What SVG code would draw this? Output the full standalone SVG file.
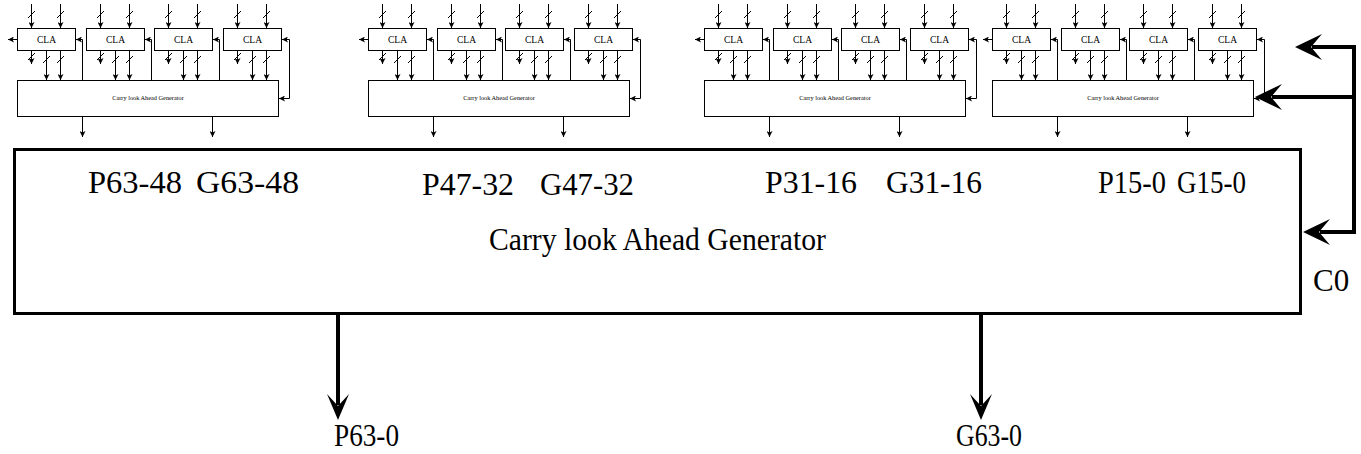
<svg xmlns="http://www.w3.org/2000/svg" xmlns:xlink="http://www.w3.org/1999/xlink" width="1361" height="454" viewBox="0 0 1361 454">
<style>
.ln{stroke:#000;stroke-width:1;fill:none}
.ar{stroke:#000;stroke-width:1;fill:none;marker-end:url(#a)}
.box{fill:#fff;stroke:#000;stroke-width:1}
.cla{font-size:9.5px;text-anchor:middle;fill:#000}
.gen{font-size:6.3px;text-anchor:middle;fill:#000}
.big{font-size:31px;fill:#000}
.thick{stroke:#000;stroke-width:4;fill:none}
.head{fill:#000}
</style>
<defs>
<marker id="a" viewBox="0 0 6 6" refX="6" refY="3" markerWidth="6" markerHeight="6" markerUnits="userSpaceOnUse" orient="auto">
<path d="M0,0 L6,3 L0,6 L1.5,3 Z" fill="#000"/>
</marker>
<g id="cell-io">
<line class="ar" x1="14.5" y1="4" x2="14.5" y2="28"/>
<line class="ar" x1="43.5" y1="4" x2="43.5" y2="28"/>
<path class="ln" d="M11,18 L18,11 M40,18 L47,11"/>
<line class="ar" x1="14.5" y1="50" x2="14.5" y2="64"/>
<line class="ar" x1="29.5" y1="50" x2="29.5" y2="80"/>
<line class="ar" x1="43.5" y1="50" x2="43.5" y2="80"/>
<path class="ln" d="M11,60 L18,53 M26,63 L33,56 M40,63 L47,56"/>
</g>
</defs>

<g font-family="'Liberation Serif', 'Times New Roman', 'DejaVu Serif', serif">
<g id="module1">
<rect class="box" x="17.5" y="28.5" width="58" height="22"/><text class="cla" x="46.5" y="43">CLA</text>
<rect class="box" x="86.5" y="28.5" width="58" height="22"/><text class="cla" x="115.5" y="43">CLA</text>
<rect class="box" x="154.5" y="28.5" width="58" height="22"/><text class="cla" x="183.5" y="43">CLA</text>
<rect class="box" x="223.5" y="28.5" width="58" height="22"/><text class="cla" x="252.5" y="43">CLA</text>
<rect class="box" x="17.5" y="80.5" width="261" height="36"/>
<text class="gen" x="148" y="100">Carry look Ahead Generator</text>
</g>
<g id="module2">
<rect class="box" x="368.5" y="28.5" width="58" height="22"/><text class="cla" x="397.5" y="43">CLA</text>
<rect class="box" x="437.5" y="28.5" width="58" height="22"/><text class="cla" x="466.5" y="43">CLA</text>
<rect class="box" x="505.5" y="28.5" width="58" height="22"/><text class="cla" x="534.5" y="43">CLA</text>
<rect class="box" x="574.5" y="28.5" width="58" height="22"/><text class="cla" x="603.5" y="43">CLA</text>
<rect class="box" x="368.5" y="80.5" width="261" height="36"/>
<text class="gen" x="499" y="100">Carry look Ahead Generator</text>
</g>
<g id="module3">
<rect class="box" x="704.5" y="28.5" width="58" height="22"/><text class="cla" x="733.5" y="43">CLA</text>
<rect class="box" x="773.5" y="28.5" width="58" height="22"/><text class="cla" x="802.5" y="43">CLA</text>
<rect class="box" x="841.5" y="28.5" width="58" height="22"/><text class="cla" x="870.5" y="43">CLA</text>
<rect class="box" x="910.5" y="28.5" width="58" height="22"/><text class="cla" x="939.5" y="43">CLA</text>
<rect class="box" x="704.5" y="80.5" width="261" height="36"/>
<text class="gen" x="835" y="100">Carry look Ahead Generator</text>
</g>
<g id="module4">
<rect class="box" x="992.5" y="28.5" width="58" height="22"/><text class="cla" x="1021.5" y="43">CLA</text>
<rect class="box" x="1061.5" y="28.5" width="58" height="22"/><text class="cla" x="1090.5" y="43">CLA</text>
<rect class="box" x="1129.5" y="28.5" width="58" height="22"/><text class="cla" x="1158.5" y="43">CLA</text>
<rect class="box" x="1198.5" y="28.5" width="58" height="22"/><text class="cla" x="1227.5" y="43">CLA</text>
<rect class="box" x="992.5" y="80.5" width="261" height="36"/>
<text class="gen" x="1123" y="100">Carry look Ahead Generator</text>
</g>

<g id="main">
<rect x="14.5" y="149.5" width="1286" height="164" fill="none" stroke="#000" stroke-width="3"/>
<text class="big" x="88" y="193" textLength="94" lengthAdjust="spacingAndGlyphs">P63-48</text>
<text class="big" x="196" y="193" textLength="103" lengthAdjust="spacingAndGlyphs">G63-48</text>
<text class="big" x="422" y="195" textLength="92" lengthAdjust="spacingAndGlyphs">P47-32</text>
<text class="big" x="540" y="195" textLength="94" lengthAdjust="spacingAndGlyphs">G47-32</text>
<text class="big" x="765" y="193" textLength="92" lengthAdjust="spacingAndGlyphs">P31-16</text>
<text class="big" x="886" y="193" textLength="96" lengthAdjust="spacingAndGlyphs">G31-16</text>
<text class="big" x="1098" y="193" textLength="68" lengthAdjust="spacingAndGlyphs">P15-0</text>
<text class="big" x="1177" y="193" textLength="69" lengthAdjust="spacingAndGlyphs">G15-0</text>
<text class="big" x="489" y="250" textLength="337" lengthAdjust="spacingAndGlyphs">Carry look Ahead Generator</text>
</g>
<g id="labels">
<text class="big" x="1313" y="291">C0</text>
<text class="big" x="334" y="446" textLength="65" lengthAdjust="spacingAndGlyphs">P63-0</text>
<text class="big" x="956" y="446" textLength="66" lengthAdjust="spacingAndGlyphs">G63-0</text>
</g>
</g>

<g id="connectors">
<use xlink:href="#cell-io" x="17" y="0"/><use xlink:href="#cell-io" x="86" y="0"/><use xlink:href="#cell-io" x="154" y="0"/><use xlink:href="#cell-io" x="223" y="0"/>
<use xlink:href="#cell-io" x="368" y="0"/><use xlink:href="#cell-io" x="437" y="0"/><use xlink:href="#cell-io" x="505" y="0"/><use xlink:href="#cell-io" x="574" y="0"/>
<use xlink:href="#cell-io" x="704" y="0"/><use xlink:href="#cell-io" x="773" y="0"/><use xlink:href="#cell-io" x="841" y="0"/><use xlink:href="#cell-io" x="910" y="0"/>
<use xlink:href="#cell-io" x="992" y="0"/><use xlink:href="#cell-io" x="1061" y="0"/><use xlink:href="#cell-io" x="1129" y="0"/><use xlink:href="#cell-io" x="1198" y="0"/>

<path class="ar" d="M17,39.5 H8"/>
<path class="ar" d="M82.5,80 V39.5 H76"/>
<path class="ar" d="M151.5,80 V39.5 H145"/>
<path class="ar" d="M219.5,80 V39.5 H213"/>
<path class="ar" d="M289.5,68 V39.5 H282"/>
<path class="ar" d="M289.5,68 V98.5 H279"/>
<path class="ar" d="M82.5,117 V137"/>
<path class="ar" d="M212.5,117 V137"/>

<path class="ar" d="M368,39.5 H359"/>
<path class="ar" d="M433.5,80 V39.5 H427"/>
<path class="ar" d="M502.5,80 V39.5 H496"/>
<path class="ar" d="M570.5,80 V39.5 H564"/>
<path class="ar" d="M640.5,68 V39.5 H633"/>
<path class="ar" d="M640.5,68 V98.5 H630"/>
<path class="ar" d="M433.5,117 V137"/>
<path class="ar" d="M563.5,117 V137"/>

<path class="ar" d="M704,39.5 H695"/>
<path class="ar" d="M769.5,80 V39.5 H763"/>
<path class="ar" d="M838.5,80 V39.5 H832"/>
<path class="ar" d="M906.5,80 V39.5 H900"/>
<path class="ar" d="M976.5,68 V39.5 H969"/>
<path class="ar" d="M976.5,68 V98.5 H966"/>
<path class="ar" d="M769.5,117 V137"/>
<path class="ar" d="M899.5,117 V137"/>

<path class="ar" d="M992,39.5 H983"/>
<path class="ar" d="M1057.5,80 V39.5 H1051"/>
<path class="ar" d="M1126.5,80 V39.5 H1120"/>
<path class="ar" d="M1194.5,80 V39.5 H1188"/>
<path class="ar" d="M1264.5,68 V39.5 H1257"/>
<path class="ar" d="M1264.5,68 V98.5 H1254"/>
<path class="ar" d="M1057.5,117 V137"/>
<path class="ar" d="M1187.5,117 V137"/>

<path class="thick" d="M1312,47 H1354 V232 H1320 M1354,97 H1272"/>
<path class="head" d="M1295,47 L1322,34 L1311,47 L1322,60 Z"/>
<path class="head" d="M1255,97 L1282,84 L1271,97 L1282,110 Z"/>
<path class="head" d="M1303,232 L1330,219 L1319,232 L1330,245 Z"/>

<path class="thick" d="M338,315 V405" stroke-width="3"/>
<path class="head" d="M338,420 L327,394 L338,406 L349,394 Z"/>
<path class="thick" d="M981,315 V405" stroke-width="3"/>
<path class="head" d="M981,420 L970,394 L981,406 L992,394 Z"/>
</g>
</svg>
